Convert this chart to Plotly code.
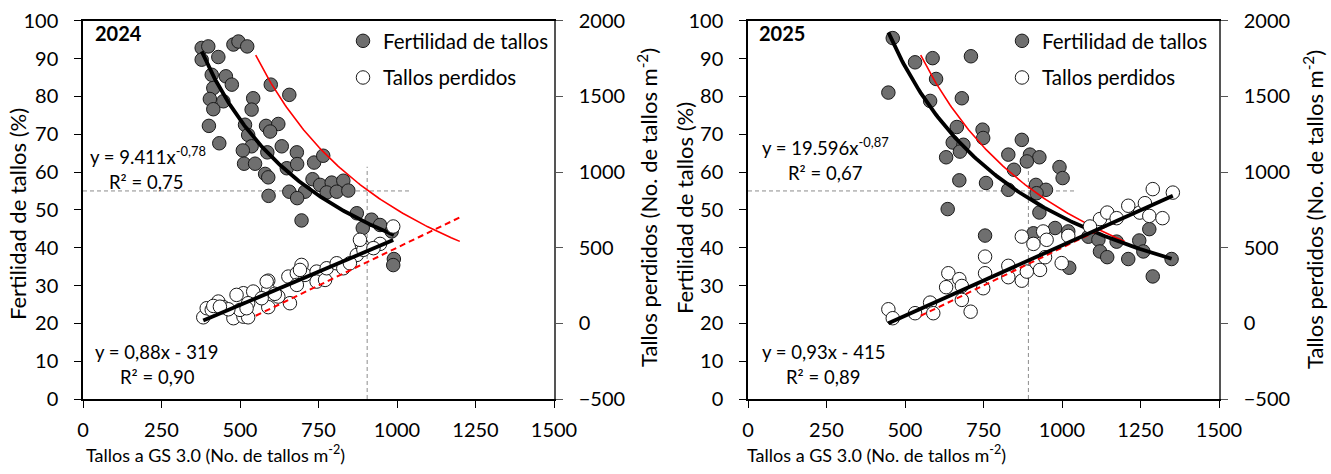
import numpy as np
import plotly.graph_objects as go

# ---------------- data ----------------
# 2024: stem fertility (%) vs stems at GS 3.0
fert24_x = [378, 399, 378, 431, 479, 495, 523, 410, 455, 474, 415, 404, 447, 415, 542, 537,
            598, 657, 401, 434, 516, 583, 622, 596, 526, 537, 509, 587, 633, 681, 513, 548,
            649, 682, 736, 765, 580, 590, 731, 755, 792, 829, 657, 707, 776, 808, 845, 591,
            682, 696, 872, 919, 891, 946, 983, 990, 988]
fert24_y = [92.8, 93.2, 89.7, 90.4, 93.7, 94.5, 93.2, 85.7, 85.3, 83.1, 82.2, 79.3, 78.7, 76.6,
            79.5, 76.5, 83.1, 80.4, 72.2, 67.6, 72.5, 72.2, 72.7, 70.7, 69.8, 66.8, 65.7, 65.2,
            66.8, 65.2, 62.2, 62.2, 61.0, 62.1, 62.5, 64.3, 59.5, 58.6, 58.1, 56.6, 57.2, 57.7,
            54.8, 54.8, 54.6, 54.8, 55.1, 53.7, 53.1, 47.2, 49.1, 47.4, 45.2, 46.0, 44.3, 37.0, 35.4]

# 2024: lost stems (stems m-2) vs stems at GS 3.0
perd24_x = [383, 394, 410, 431, 447, 415, 479, 511, 526, 511, 542, 526, 500, 590, 590, 590,
            622, 659, 654, 681, 681, 707, 696, 744, 744, 771, 776, 808, 829, 872, 888, 893,
            882, 946, 925, 988, 611, 569, 489, 463, 691, 850, 436, 521, 585]
perd24_y = [40, 100, 89, 144, 107, 115, 34, 44, 40, 199, 210, 133, 89, 282, 221, 107,
            177, 133, 309, 331, 254, 320, 386, 342, 276, 287, 364, 397, 364, 452, 519, 486,
            552, 525, 497, 640, 195, 166, 188, 93, 353, 397, 110, 100, 276]

# 2025: stem fertility (%)
fert25_x = [461, 447, 532, 588, 599, 710, 580, 681, 665, 747, 749, 652, 686, 675, 631, 872,
            829, 898, 928, 888, 847, 992, 1002, 673, 758, 829, 917, 949, 919, 636, 928, 755,
            909, 978, 1020, 1023, 1084, 1116, 1121, 1144, 1174, 1211, 1246, 1259, 1278, 1289, 1349]
fert25_y = [95.4, 81.0, 89.0, 90.1, 84.6, 90.6, 78.8, 79.5, 71.9, 71.2, 69.0, 67.8, 67.2, 65.4,
            63.9, 68.5, 64.6, 64.6, 63.9, 62.8, 60.6, 61.3, 58.4, 57.8, 57.1, 55.3, 56.6, 55.3,
            54.4, 50.2, 49.3, 43.2, 43.8, 45.2, 44.3, 34.7, 42.9, 42.1, 39.0, 37.5, 41.6, 37.0,
            41.9, 39.0, 44.9, 32.4, 37.0]

# 2025: lost stems (stems m-2)
perd25_x = [447, 461, 532, 580, 590, 638, 631, 673, 681, 681, 709, 755, 755, 749, 829, 829,
            872, 872, 888, 909, 919, 930, 940, 951, 946, 999, 1121, 1144, 1174, 1211,
            1248, 1264, 1289, 1278, 1320, 1353, 1020, 1089]
perd25_y = [93, 34, 67, 137, 67, 331, 239, 292, 247, 155, 77, 441, 331, 232, 380, 305,
            282, 573, 342, 525, 398, 353, 607, 552, 437, 398, 689, 732, 695, 777,
            732, 794, 887, 710, 695, 864, 578, 640]

# fitted models (power for fertility, linear for lost stems)
fit_fert = {"2024": (9411, -0.78), "2025": (19596, -0.87)}
fit_perd = {"2024": (0.88, -319), "2025": (0.93, -415)}
r2_fert = {"2024": "0,75", "2025": "0,67"}
r2_perd = {"2024": "0,90", "2025": "0,89"}

# reference: constant spike density (spikes m-2) and its stem range
espigas_ref = 500
ref_x_range = (550, 1200)

# guide lines
fert_umbral = 55
guia_x = {"2024": 905, "2025": 893}
guia_h_fin = 1040
guia_v_top = 61.4

x_ticks = [0, 250, 500, 750, 1000, 1250, 1500]

# ---------------- figure ----------------
W, H = 1331, 474
FONT = "Lato, 'Open Sans', sans-serif"
GRAY_FILL = "#6f6f6f"

fx_ = lambda p: p / W          # pixel column -> paper x
fy_ = lambda p: (H - p) / H    # pixel row -> paper y
ydom = [fy_(399), fy_(20.7)]
xdoms = {"2024": [fx_(83), fx_(554)], "2025": [fx_(748), fx_(1219)]}
axes = {"2024": ("x", "y", "y2"), "2025": ("x2", "y3", "y4")}
legends = {"2024": "legend", "2025": "legend2"}

fig = go.Figure()

panels = {
    "2024": (fert24_x, fert24_y, perd24_x, perd24_y),
    "2025": (fert25_x, fert25_y, perd25_x, perd25_y),
}

for year, (fx, fy, qx, qy) in panels.items():
    xa, ya, ya2 = axes[year]
    lg = legends[year]

    # dashed grey guides
    fig.add_trace(go.Scatter(x=[0, guia_h_fin], y=[fert_umbral, fert_umbral], mode="lines",
                             line=dict(color="#8c8c8c", width=1, dash="4px,3px"),
                             xaxis=xa, yaxis=ya, showlegend=False, hoverinfo="skip"))
    fig.add_trace(go.Scatter(x=[guia_x[year], guia_x[year]], y=[0, guia_v_top], mode="lines",
                             line=dict(color="#8c8c8c", width=1, dash="4px,3px"),
                             xaxis=xa, yaxis=ya, showlegend=False, hoverinfo="skip"))

    # points
    fig.add_trace(go.Scatter(x=fx, y=fy, mode="markers", name="Fertilidad de tallos",
                             marker=dict(size=13.5, color=GRAY_FILL, line=dict(color="#1a1a1a", width=1)),
                             xaxis=xa, yaxis=ya, legend=lg, legendgroup=year + "f"))
    fig.add_trace(go.Scatter(x=qx, y=qy, mode="markers", name="Tallos perdidos",
                             marker=dict(size=13.5, color="white", line=dict(color="#1a1a1a", width=1)),
                             xaxis=xa, yaxis=ya2, legend=lg, legendgroup=year + "p"))

    # reference curves for a constant spike density
    rx = np.linspace(ref_x_range[0], ref_x_range[1], 120)
    fig.add_trace(go.Scatter(x=rx, y=espigas_ref * 100 / rx, mode="lines",
                             line=dict(color="#ff0000", width=1.6),
                             xaxis=xa, yaxis=ya, showlegend=False, hoverinfo="skip"))
    fig.add_trace(go.Scatter(x=rx, y=rx - espigas_ref, mode="lines",
                             line=dict(color="#ff0000", width=2, dash="6px,4px"),
                             xaxis=xa, yaxis=ya2, showlegend=False, hoverinfo="skip"))

    # fitted lines
    a, b = fit_fert[year]
    fxx = np.linspace(min(fx), max(fx), 150)
    fig.add_trace(go.Scatter(x=fxx, y=a * fxx ** b, mode="lines",
                             line=dict(color="black", width=3.8),
                             xaxis=xa, yaxis=ya, showlegend=False, hoverinfo="skip"))
    m, c = fit_perd[year]
    qxx = np.array([min(qx), max(qx)])
    fig.add_trace(go.Scatter(x=qxx, y=m * qxx + c, mode="lines",
                             line=dict(color="black", width=3.8),
                             xaxis=xa, yaxis=ya2, showlegend=False, hoverinfo="skip"))

TICKFONT = dict(family=FONT, size=20, color="black")

common_x = dict(range=[0, 1500], tickvals=x_ticks, ticks="outside", ticklen=7, tickcolor="black",
                showline=True, linecolor="black", linewidth=1.5, mirror=True, showgrid=False,
                zeroline=False, tickfont=TICKFONT, automargin=False, ticklabelstandoff=5)
common_y = dict(range=[0, 100], dtick=10, ticks="outside", ticklen=7, tickcolor="black",
                showline=True, linecolor="black", linewidth=1.5, showgrid=False, zeroline=False,
                tickfont=TICKFONT, automargin=False, ticklabelstandoff=12)
common_y2 = dict(range=[-500, 2000], dtick=500, ticks="outside", ticklen=7, tickcolor="#555555",
                 showline=True, linecolor="#555555", linewidth=1.5, showgrid=False, zeroline=False,
                 tickfont=TICKFONT, automargin=False, side="right", ticklabelstandoff=12)

legend_common = dict(xanchor="left", yanchor="top", bgcolor="rgba(0,0,0,0)",
                     font=dict(family=FONT, size=20.5), tracegroupgap=7, itemwidth=30)

fig.update_layout(
    width=W, height=H, margin=dict(l=0, r=0, t=0, b=0),
    paper_bgcolor="white", plot_bgcolor="white",
    font=dict(family=FONT, color="black"),
    xaxis=dict(domain=xdoms["2024"], anchor="y", **common_x),
    yaxis=dict(domain=ydom, anchor="x", **common_y),
    yaxis2=dict(overlaying="y", anchor="x", **common_y2),
    xaxis2=dict(domain=xdoms["2025"], anchor="y3", **common_x),
    yaxis3=dict(domain=ydom, anchor="x2", **common_y),
    yaxis4=dict(overlaying="y3", anchor="x2", **common_y2),
    legend=dict(x=fx_(343), y=fy_(21), **legend_common),
    legend2=dict(x=fx_(1002), y=fy_(21), **legend_common),
    showlegend=True,
)

# axis titles
xtitle = "Tallos a GS 3.0 (No. de tallos m<sup>-2</sup>)"
ytitle = "Fertilidad de tallos (%)"
y2title = "Tallos perdidos (No. de tallos m<sup>-2</sup>)"
title_font = dict(family=FONT, size=22, color="black")
xtitle_font = dict(family=FONT, size=18, color="black")
for x_left in (84, 745):
    fig.add_annotation(x=fx_(x_left), y=fy_(454), xref="paper", yref="paper", text=xtitle,
                       showarrow=False, xanchor="left", yanchor="middle", font=xtitle_font)
for x_c, y_c in ((17, 214), (684, 208)):
    fig.add_annotation(x=fx_(x_c), y=fy_(y_c), xref="paper", yref="paper", text=ytitle,
                       textangle=-90, showarrow=False, xanchor="center", yanchor="middle",
                       font=title_font)
for x_c, y_c in ((647, 208), (1313, 210)):
    fig.add_annotation(x=fx_(x_c), y=fy_(y_c), xref="paper", yref="paper", text=y2title,
                       textangle=-90, showarrow=False, xanchor="center", yanchor="middle",
                       font=title_font)

# panel labels and fitted equations
labels = {
    "2024": dict(year_x=31, eq1=(15, 64.4), r1=(78, 57.4), eq2=(31, 12.5), r2=(110, 5.9)),
    "2025": dict(year_x=28, eq1=(37, 66.7), r1=(122, 59.8), eq2=(37, 12.5), r2=(116, 5.9)),
}
for year, pos in labels.items():
    xa, ya, _ = axes[year]
    a, b = fit_fert[year]
    m, c = fit_perd[year]
    a_txt = f"{a:,}".replace(",", ".")
    b_txt = f"{b:.2f}".replace(".", ",")
    m_txt = f"{m:.2f}".replace(".", ",")
    items = [
        (pos["year_x"], 96.8, f"<b>{year}</b>", 20),
        (*pos["eq1"], f"y = {a_txt}x<sup>{b_txt}</sup>", 18.5),
        (*pos["r1"], f"R² = {r2_fert[year]}", 18.5),
        (*pos["eq2"], f"y = {m_txt}x - {abs(c)}", 18.5),
        (*pos["r2"], f"R² = {r2_perd[year]}", 18.5),
    ]
    for x0, y0, txt, sz in items:
        fig.add_annotation(x=x0, y=y0, xref=xa, yref=ya, text=txt, showarrow=False,
                           xanchor="left", yanchor="middle",
                           font=dict(family=FONT, size=sz, color="black"))

fig.write_html("out.html")
